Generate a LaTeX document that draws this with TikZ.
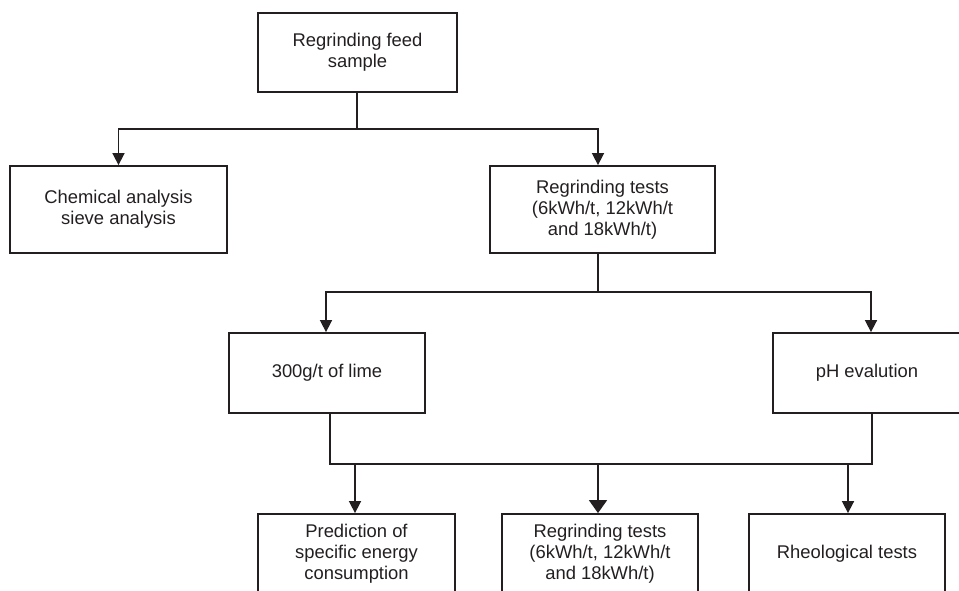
\documentclass[tikz,border=0pt]{standalone}
\usepackage{fontspec}
\setmainfont{Liberation Sans}
\usetikzlibrary{arrows.meta,calc}
\definecolor{ink}{HTML}{231F20}
\tikzset{
  box/.style={draw=ink, line width=1.8pt, text=ink, align=center, inner sep=0pt,
    font=\fontsize{18.4}{21}\selectfont},
  conn/.style={draw=ink, line width=1.6pt},
  arr/.style={conn, -{Triangle[length=12pt,width=12pt]}},
  bigarr/.style={conn, -{Triangle[length=13pt,width=18pt]}},
}
\begin{document}
\begin{tikzpicture}[x=1pt,y=-1pt]
\useasboundingbox (0,0) rectangle (959,590);
\clip (0,0) rectangle (959,590);
\node[box, minimum width=199pt, minimum height=79pt] (top) at (357.5,52.5) {Regrinding feed\\sample};
\node[box, minimum width=217pt, minimum height=87pt] (chem) at (118.5,209.5) {Chemical analysis\\sieve analysis};
\node[box, minimum width=225pt, minimum height=87pt] (rg1) at (602.5,209.5) {Regrinding tests\\(6kWh/t, 12kWh/t\\and 18kWh/t)};
\node[box, minimum width=196pt, minimum height=80pt] (lime) at (327,373) {300g/t of lime};
\node[box, minimum width=188pt, minimum height=80pt] (ph) at (867,373) {pH evalution};
\node[box, minimum width=197pt, minimum height=79pt] (pred) at (356.5,553.5) {Prediction of\\specific energy\\consumption};
\node[box, minimum width=196pt, minimum height=79pt] (rg2) at (600,553.5) {Regrinding tests\\(6kWh/t, 12kWh/t\\and 18kWh/t)};
\node[box, minimum width=196pt, minimum height=79pt] (rheo) at (847,553.5) {Rheological tests};

\coordinate (s1) at ($(top.south)+(-0.5,0)$);
\coordinate (j1) at ($(s1)+(0,36)$);
\draw[conn] (s1) -- (j1);
\draw[arr] (j1) -| (chem.north);
\draw[arr] (j1) -| ($(rg1.north)+(-4.5,0)$);

\coordinate (j2) at ($(rg1.south)+(-4.5,38)$);
\draw[conn] ($(rg1.south)+(-4.5,0)$) -- (j2);
\draw[arr] (j2) -| ($(lime.north)+(-1,0)$);
\draw[arr] (j2) -| ($(ph.north)+(4,0)$);

\coordinate (j3) at ($(lime.south)+(3,50)$);
\coordinate (j4) at ($(ph.south)+(5,50)$);
\draw[conn] ($(lime.south)+(3,0)$) -- (j3) -- (j4) -- ($(ph.south)+(5,0)$);
\draw[arr] ($(j3 -| pred.north)+(-1.5,0)$) -- ($(pred.north)+(-1.5,0)$);
\draw[bigarr] ($(j3 -| rg2.north)+(-2,0)$) -- ($(rg2.north)+(-2,0)$);
\draw[arr] ($(j3 -| rheo.north)+(1,0)$) -- ($(rheo.north)+(1,0)$);
\end{tikzpicture}
\end{document}
